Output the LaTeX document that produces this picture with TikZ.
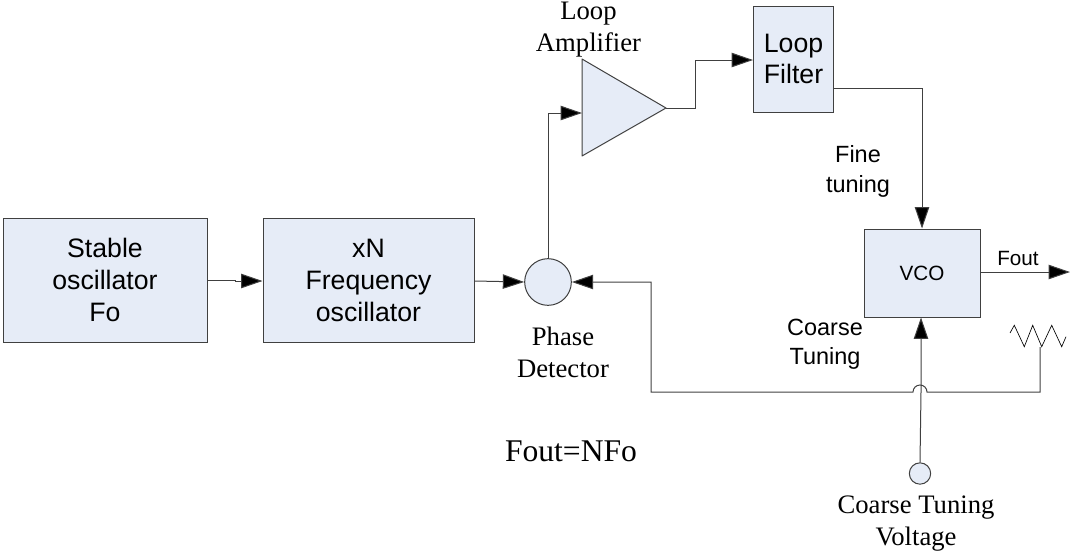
\documentclass[tikz,border=0pt]{standalone}
\usepackage{fontspec}
\setmainfont{Liberation Serif}
\setsansfont{Liberation Sans}
\usetikzlibrary{arrows.meta,positioning}
\definecolor{boxfill}{HTML}{E6ECF7}
\definecolor{boxline}{HTML}{404040}
\tikzset{
  x=0.75pt,y=-0.75pt,
  blockbox/.style={draw=boxline,fill=boxfill,line width=0.75pt,inner sep=0pt,align=center,font=\sffamily\fontsize{20}{23.7}\selectfont},
  wire/.style={draw=boxline,line width=0.75pt,-{Triangle[length=16pt,width=10.8pt,fill=black]}},
  plainwire/.style={draw=boxline,line width=0.75pt},
  sanslabel/.style={inner sep=0pt,align=center,font=\sffamily\fontsize{17.6}{22}\selectfont},
  seriflabel/.style={inner sep=0pt,align=center,font=\rmfamily\fontsize{20}{24}\selectfont},
}
\begin{document}
\begin{tikzpicture}
\useasboundingbox (0,0) rectangle (1071,550);
% blocks
\node[blockbox,minimum width=153pt,minimum height=93pt] (stable) at (105,280) {Stable\\oscillator\\Fo};
\node[blockbox,minimum width=158.25pt,minimum height=93pt] (freq) at (368.5,280.5) {xN\\Frequency\\oscillator};
\node[blockbox,minimum width=60pt,minimum height=79.5pt] (filter) at (793.5,59) {Loop\\Filter};
\node[blockbox,minimum width=87pt,minimum height=66pt,font=\sffamily\fontsize{15.5}{18}\selectfont] (vco) at (922,273) {VCO};
\node[circle,draw=boxline,fill=boxfill,line width=0.75pt,minimum size=35pt,inner sep=0pt] (pd) at (548,282) {};
\node[circle,draw=boxline,fill=boxfill,line width=0.75pt,minimum size=16pt,inner sep=0pt] (cv) at (920,473.5) {};
% amplifier
\coordinate (ampa) at (582,59);
\coordinate (ampb) at (582,156);
\coordinate (ampout) at (666,108);
\coordinate (ampin) at (582,113);
\draw[draw=boxline,fill=boxfill,line width=0.75pt,line join=round] (ampa) -- (ampout) -- (ampb) -- cycle;
% free coordinates
\coordinate (fout) at (1070,272);
\coordinate (hopr) at (927,392);
\coordinate (zz) at (1040,347);
% connectors
\draw[wire] (stable.east |- 0,280) -- (235,280) -- (235,281) -- (freq.west |- 0,281);
\draw[wire] (freq.east |- 0,281) -- (pd.west);
\draw[wire] (pd.north) -- (548,113) -- (ampin);
\draw[wire] (ampout) -- (695,108) -- (695,60) -- (filter.west |- 0,60);
\draw[wire] (filter.east |- 0,88) -- (922,88) -- (vco.north);
\draw[wire] (vco.east |- 0,272) -- (fout);
\draw[wire] (cv.north) -- (921,392) -- (vco.south -| 921,0);
\draw[wire] (zz) -- (1040,392) -- (hopr) arc[start angle=0,end angle=180,x radius=7,y radius=-7] -- (651,392) -- (651,282) -- (pd.east);
% zigzag
\draw[plainwire,draw=black,line width=0.5pt,line join=miter]
  (1010,333) -- (1014.3,325.3) -- (1024.3,346.7) -- (1032.7,325.3) -- (1041.7,346.7) -- (1051.7,325.3) -- (1061.7,346.7) -- (1066,336.7);
% labels
\node[sanslabel] (lfine) at (858,171.5) {Fine\\tuning};
\node[sanslabel] (lcoarse) at (825,344.5) {Coarse\\Tuning};
\node[sanslabel,font=\sffamily\fontsize{15.5}{18}\selectfont] (lfout) at (1018,258) {Fout};
\node[seriflabel] (lamp) at (588.5,30) {Loop\\Amplifier};
\node[seriflabel] (lpd) at (563,352.5) {Phase\\Detector};
\node[seriflabel,font=\rmfamily\fontsize{23.7}{27}\selectfont] (lnfo) at (571,451.5) {Fout=NFo};
\node[seriflabel] (lcv) at (916,523.5) {Coarse Tuning\\Voltage};
\end{tikzpicture}
\end{document}
